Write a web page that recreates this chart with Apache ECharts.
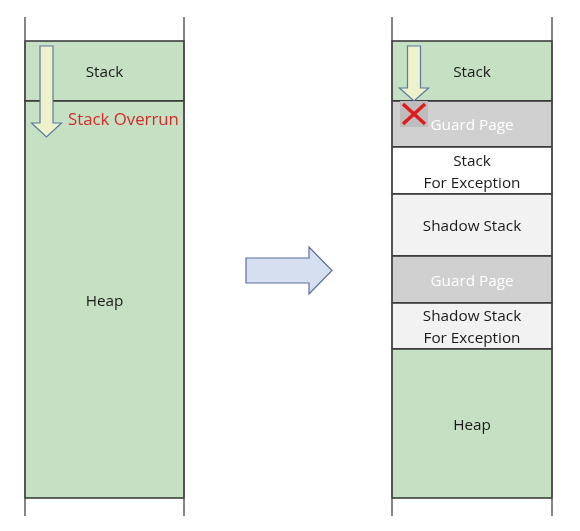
<!DOCTYPE html>
<html><head><meta charset="utf-8">
<script src="https://cdn.jsdelivr.net/npm/echarts@6/dist/echarts.min.js"></script>
<style>html,body{margin:0;padding:0;background:#fff}#c{width:580px;height:531px}</style>
</head><body><div id="c"></div>
<script>
// ---- diagram data (memory layout, in diagram units) ----
const leftColumn = [25, 184];
const rightColumn = [392, 552];
const columnExtent = [17, 516];
const leftLabels = ['Stack', 'Heap'];
const leftBounds = [41, 101, 498];
const rightLabels = ['Stack', 'Guard Page', 'Stack\nFor Exception', 'Shadow Stack', 'Guard Page', 'Shadow Stack\nFor Exception', 'Heap'];
const rightBounds = [41, 101, 147, 194, 256, 303, 349, 498];
const overrunLabel = ['Stack Overrun', 68, 120];
const downArrows = [[46.5, 46, 137], [414, 46, 101]];   // [centre x, top, tip]
const rightArrows = [[246, 270.5, 332]];                 // [start x, centre y, tip]
const blockedMark = [[414, 114]];                         // centre of the red cross

// ---- styling ----
const fills = {
  'Stack': '#C5E0C3', 'Heap': '#C5E0C3', 'Guard Page': '#D0D0D0',
  'Stack\nFor Exception': '#FFFFFF', 'Shadow Stack': '#F2F2F2', 'Shadow Stack\nFor Exception': '#F2F2F2'
};
const FONT = '15.3px "Open Sans", "Noto Sans", sans-serif';

function buildBlocks(col, bounds, labels) {
  return labels.map((l, i) => [col[0], col[1], bounds[i], bounds[i + 1], l]);
}
const blocks = buildBlocks(leftColumn, leftBounds, leftLabels).concat(buildBlocks(rightColumn, rightBounds, rightLabels));
const sides = [leftColumn[0], leftColumn[1], rightColumn[0], rightColumn[1]].map(x => [x, columnExtent[0], columnExtent[1]]);

const chart = echarts.init(document.getElementById('c'));
chart.setOption({
  animation: false,
  grid: { left: 0, right: 0, top: 0, bottom: 0 },
  xAxis: { type: 'value', min: 0, max: 580, show: false },
  yAxis: { type: 'value', min: 0, max: 531, inverse: true, show: false },
  series: [
    {
      type: 'custom', z: 2, data: blocks.map(b => b.slice(0, 4)),
      renderItem: function (params, api) {
        const p0 = api.coord([api.value(0), api.value(2)]);
        const p1 = api.coord([api.value(1), api.value(3)]);
        const label = blocks[params.dataIndex][4];
        return { type: 'group', children: [
          { type: 'rect', shape: { x: p0[0], y: p0[1], width: p1[0] - p0[0], height: p1[1] - p0[1] },
            style: { fill: fills[label], stroke: '#333', lineWidth: 1.3 } },
          { type: 'text', z2: 5, style: { text: label, x: (p0[0] + p1[0]) / 2, y: (p0[1] + p1[1]) / 2 + 2,
            align: 'center', verticalAlign: 'middle', font: FONT, lineHeight: 22,
            fill: label === 'Guard Page' ? '#FFFFFF' : '#1A1A1A' } }
        ] };
      }
    },
    {
      type: 'custom', z: 3, data: sides,
      renderItem: function (params, api) {
        const a = api.coord([api.value(0), api.value(1)]);
        const b = api.coord([api.value(0), api.value(2)]);
        return { type: 'line', shape: { x1: a[0], y1: a[1], x2: b[0], y2: b[1] }, style: { stroke: '#444', lineWidth: 1.3 } };
      }
    },
    {
      type: 'custom', z: 4, data: blockedMark,
      renderItem: function (params, api) {
        const c = api.coord([api.value(0), api.value(1)]);
        return { type: 'group', children: [
          { type: 'rect', shape: { x: c[0] - 14, y: c[1] - 13, width: 28, height: 26 }, style: { fill: '#BDBDBD' } },
          { type: 'line', z2: 2, shape: { x1: c[0] - 11, y1: c[1] - 10, x2: c[0] + 11, y2: c[1] + 10 }, style: { stroke: '#E01B1B', lineWidth: 3.5 } },
          { type: 'line', z2: 2, shape: { x1: c[0] + 11, y1: c[1] - 10, x2: c[0] - 11, y2: c[1] + 10 }, style: { stroke: '#E01B1B', lineWidth: 3.5 } }
        ] };
      }
    },
    {
      type: 'custom', z: 5, data: downArrows,
      renderItem: function (params, api) {
        const t = api.coord([api.value(0), api.value(1)]);
        const e = api.coord([api.value(0), api.value(2)]);
        const big = params.dataIndex === 0;
        const sw = 6.5, hw = big ? 15 : 14.5, hl = big ? 14 : 13;
        const x = t[0];
        return { type: 'polygon', shape: { points: [
          [x - sw, t[1]], [x + sw, t[1]], [x + sw, e[1] - hl], [x + hw, e[1] - hl],
          [x, e[1]], [x - hw, e[1] - hl], [x - sw, e[1] - hl]] },
          style: { fill: '#EFF1CB', stroke: '#5A7AA3', lineWidth: 1.2 } };
      }
    },
    {
      type: 'custom', z: 5, data: rightArrows,
      renderItem: function (params, api) {
        const s = api.coord([api.value(0), api.value(1)]);
        const e = api.coord([api.value(2), api.value(1)]);
        const sh = 12.5, hh = 23.5, hl = 23, y = s[1];
        return { type: 'polygon', shape: { points: [
          [s[0], y - sh], [e[0] - hl, y - sh], [e[0] - hl, y - hh], [e[0], y],
          [e[0] - hl, y + hh], [e[0] - hl, y + sh], [s[0], y + sh]] },
          style: { fill: '#D6DFF0', stroke: '#5A6EA0', lineWidth: 1.2 } };
      }
    },
    {
      type: 'custom', z: 6, data: [[overrunLabel[1], overrunLabel[2]]],
      renderItem: function (params, api) {
        const p = api.coord([api.value(0), api.value(1)]);
        return { type: 'text', style: { text: overrunLabel[0], x: p[0], y: p[1], align: 'left', verticalAlign: 'middle',
          font: '16.8px "Open Sans", "Noto Sans", sans-serif', fill: '#D42A2A' } };
      }
    }
  ]
});
</script></body></html>
